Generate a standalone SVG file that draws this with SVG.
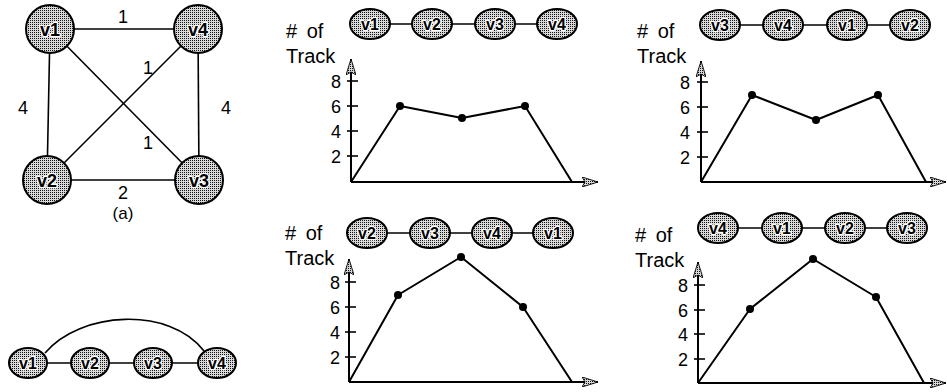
<svg xmlns="http://www.w3.org/2000/svg" width="947" height="392" viewBox="0 0 947 392">
<defs>
<pattern id="stip" width="2" height="2" patternUnits="userSpaceOnUse">
<rect width="2" height="2" fill="#d8d8d8"/>
<rect width="1" height="1" fill="#111"/>
</pattern>
<marker id="arr" viewBox="0 0 16 10" refX="16" refY="5" markerWidth="16" markerHeight="10" markerUnits="userSpaceOnUse" orient="auto">
<path d="M0,0 L16,5 L0,10 L3,5 Z" fill="url(#stip)" stroke="#000" stroke-width="0.9"/>
</marker>
<style>
.n{fill:url(#stip);stroke:#000;stroke-width:2}
.nt{font-family:"Liberation Sans",Arial,sans-serif;font-size:16px;font-weight:bold;text-anchor:middle;fill:#000;stroke:#fff;stroke-width:2.5;paint-order:stroke;stroke-linejoin:round}
.big{font-size:18px}
.e{stroke:#000;stroke-width:1.6;fill:none}
.lbl{font-family:"Liberation Sans",Arial,sans-serif;font-size:18px;fill:#000}
.ttl{font-family:"Liberation Sans",Arial,sans-serif;font-size:20px;fill:#000;word-spacing:4px}
.mid{text-anchor:middle}
.end{text-anchor:end}
.axa{stroke:#000;stroke-width:2;fill:none;marker-end:url(#arr)}
.tk{stroke:#000;stroke-width:1.6}
.data{stroke:#000;stroke-width:2;fill:none;stroke-linejoin:round}
.dot{fill:#000}
</style>
</defs>
<rect width="947" height="392" fill="#fff"/>

<g id="connectors">
<!-- graph (a) -->
<line class="e" x1="50" y1="29" x2="198" y2="29"/>
<line class="e" x1="50" y1="29" x2="47" y2="180"/>
<line class="e" x1="198" y1="29" x2="199" y2="180"/>
<line class="e" x1="47" y1="180" x2="199" y2="180"/>
<line class="e" x1="50" y1="29" x2="199" y2="180"/>
<line class="e" x1="198" y1="29" x2="47" y2="180"/>
<!-- bottom-left chain -->
<line class="e" x1="28" y1="363" x2="217" y2="363"/>
<path class="e" d="M45,353 C80,311 170,306 204,351"/>
<!-- chart chains -->
<line class="e" x1="370" y1="24" x2="557" y2="24"/>
<line class="e" x1="720" y1="25" x2="910" y2="25"/>
<line class="e" x1="367" y1="233" x2="553" y2="233"/>
<line class="e" x1="718" y1="228" x2="907" y2="228"/>
</g>

<g id="graph-a-labels" class="lbl mid">
<text x="123" y="23">1</text>
<text x="23" y="114">4</text>
<text x="226" y="114">4</text>
<text x="148" y="74">1</text>
<text x="148" y="149">1</text>
<text x="123" y="199">2</text>
<text x="123" y="219" font-size="17">(a)</text>
</g>

<g id="a-v1"><circle class="n" cx="50" cy="29" r="24"/><text class="nt big" x="50" y="35.5">v1</text></g>
<g id="a-v4"><circle class="n" cx="198" cy="29" r="24"/><text class="nt big" x="198" y="35.5">v4</text></g>
<g id="a-v2"><circle class="n" cx="47" cy="180" r="24"/><text class="nt big" x="47" y="186.5">v2</text></g>
<g id="a-v3"><circle class="n" cx="199" cy="180" r="24"/><text class="nt big" x="199" y="186.5">v3</text></g>

<g id="b-v1"><ellipse class="n" cx="28" cy="363" rx="19" ry="15"/><text class="nt" x="28" y="369">v1</text></g>
<g id="b-v2"><ellipse class="n" cx="90" cy="363" rx="19" ry="15"/><text class="nt" x="90" y="369">v2</text></g>
<g id="b-v3"><ellipse class="n" cx="153" cy="363" rx="19" ry="15"/><text class="nt" x="153" y="369">v3</text></g>
<g id="b-v4"><ellipse class="n" cx="217" cy="363" rx="19" ry="15"/><text class="nt" x="217" y="369">v4</text></g>

<!-- Chart 1: top middle -->
<g id="chart1">
<text class="ttl" x="286" y="38">#  of</text>
<text class="ttl" x="286" y="63">Track</text>
<line class="axa" x1="351" y1="182" x2="351" y2="59"/>
<line class="axa" x1="351" y1="182" x2="598" y2="182"/>
<line class="tk" x1="347" y1="81" x2="358" y2="81"/>
<line class="tk" x1="347" y1="106" x2="358" y2="106"/>
<line class="tk" x1="347" y1="131" x2="358" y2="131"/>
<line class="tk" x1="347" y1="156" x2="358" y2="156"/>
<g class="lbl end"><text x="341" y="87.5">8</text><text x="341" y="112.5">6</text><text x="341" y="137.5">4</text><text x="341" y="162.5">2</text></g>
<polyline class="data" points="351,182 400,106 462,118 525,106 572,182"/>
<circle class="dot" cx="400" cy="106" r="4"/><circle class="dot" cx="462" cy="118" r="4"/><circle class="dot" cx="525" cy="106" r="4"/>
</g>
<g id="c1-v1"><ellipse class="n" cx="370" cy="24" rx="20" ry="15"/><text class="nt" x="370" y="30">v1</text></g>
<g id="c1-v2"><ellipse class="n" cx="432" cy="24" rx="20" ry="15"/><text class="nt" x="432" y="30">v2</text></g>
<g id="c1-v3"><ellipse class="n" cx="495" cy="24" rx="20" ry="15"/><text class="nt" x="495" y="30">v3</text></g>
<g id="c1-v4"><ellipse class="n" cx="557" cy="24" rx="20" ry="15"/><text class="nt" x="557" y="30">v4</text></g>

<!-- Chart 2: top right -->
<g id="chart2">
<text class="ttl" x="637" y="38">#  of</text>
<text class="ttl" x="637" y="63">Track</text>
<line class="axa" x1="701" y1="182" x2="701" y2="61"/>
<line class="axa" x1="701" y1="182" x2="946" y2="182"/>
<line class="tk" x1="697" y1="82" x2="708" y2="82"/>
<line class="tk" x1="697" y1="107" x2="708" y2="107"/>
<line class="tk" x1="697" y1="132" x2="708" y2="132"/>
<line class="tk" x1="697" y1="157" x2="708" y2="157"/>
<g class="lbl end"><text x="690" y="88.5">8</text><text x="690" y="113.5">6</text><text x="690" y="138.5">4</text><text x="690" y="163.5">2</text></g>
<polyline class="data" points="701,182 752,95 816,120 878,95 926,182"/>
<circle class="dot" cx="752" cy="95" r="4"/><circle class="dot" cx="816" cy="120" r="4"/><circle class="dot" cx="878" cy="95" r="4"/>
</g>
<g id="c2-v3"><ellipse class="n" cx="720" cy="25" rx="20" ry="15"/><text class="nt" x="720" y="31">v3</text></g>
<g id="c2-v4"><ellipse class="n" cx="783" cy="25" rx="20" ry="15"/><text class="nt" x="783" y="31">v4</text></g>
<g id="c2-v1"><ellipse class="n" cx="847" cy="25" rx="20" ry="15"/><text class="nt" x="847" y="31">v1</text></g>
<g id="c2-v2"><ellipse class="n" cx="910" cy="25" rx="20" ry="15"/><text class="nt" x="910" y="31">v2</text></g>

<!-- Chart 3: bottom middle -->
<g id="chart3">
<text class="ttl" x="285" y="240">#  of</text>
<text class="ttl" x="285" y="265">Track</text>
<line class="axa" x1="349" y1="382" x2="349" y2="259"/>
<line class="axa" x1="349" y1="382" x2="598" y2="382"/>
<line class="tk" x1="345" y1="282" x2="356" y2="282"/>
<line class="tk" x1="345" y1="307" x2="356" y2="307"/>
<line class="tk" x1="345" y1="332" x2="356" y2="332"/>
<line class="tk" x1="345" y1="357" x2="356" y2="357"/>
<g class="lbl end"><text x="340" y="288.5">8</text><text x="340" y="313.5">6</text><text x="340" y="338.5">4</text><text x="340" y="363.5">2</text></g>
<polyline class="data" points="349,382 398,295 461,257 523,307 572,382"/>
<circle class="dot" cx="398" cy="295" r="4"/><circle class="dot" cx="461" cy="257" r="4"/><circle class="dot" cx="523" cy="307" r="4"/>
</g>
<g id="c3-v2"><ellipse class="n" cx="367" cy="233" rx="20" ry="15"/><text class="nt" x="367" y="239">v2</text></g>
<g id="c3-v3"><ellipse class="n" cx="430" cy="233" rx="20" ry="15"/><text class="nt" x="430" y="239">v3</text></g>
<g id="c3-v4"><ellipse class="n" cx="492" cy="233" rx="20" ry="15"/><text class="nt" x="492" y="239">v4</text></g>
<g id="c3-v1"><ellipse class="n" cx="553" cy="233" rx="20" ry="15"/><text class="nt" x="553" y="239">v1</text></g>

<!-- Chart 4: bottom right -->
<g id="chart4">
<text class="ttl" x="635" y="242">#  of</text>
<text class="ttl" x="635" y="267">Track</text>
<line class="axa" x1="698" y1="383" x2="698" y2="262"/>
<line class="axa" x1="698" y1="383" x2="946" y2="383"/>
<line class="tk" x1="694" y1="285" x2="705" y2="285"/>
<line class="tk" x1="694" y1="310" x2="705" y2="310"/>
<line class="tk" x1="694" y1="334" x2="705" y2="334"/>
<line class="tk" x1="694" y1="359" x2="705" y2="359"/>
<g class="lbl end"><text x="688" y="291.5">8</text><text x="688" y="316.5">6</text><text x="688" y="340.5">4</text><text x="688" y="365.5">2</text></g>
<polyline class="data" points="698,383 750,309 813,259 876,297 924,383"/>
<circle class="dot" cx="750" cy="309" r="4"/><circle class="dot" cx="813" cy="259" r="4"/><circle class="dot" cx="876" cy="297" r="4"/>
</g>
<g id="c4-v4"><ellipse class="n" cx="718" cy="228" rx="20" ry="15"/><text class="nt" x="718" y="234">v4</text></g>
<g id="c4-v1"><ellipse class="n" cx="782" cy="228" rx="20" ry="15"/><text class="nt" x="782" y="234">v1</text></g>
<g id="c4-v2"><ellipse class="n" cx="845" cy="228" rx="20" ry="15"/><text class="nt" x="845" y="234">v2</text></g>
<g id="c4-v3"><ellipse class="n" cx="907" cy="228" rx="20" ry="15"/><text class="nt" x="907" y="234">v3</text></g>
</svg>
